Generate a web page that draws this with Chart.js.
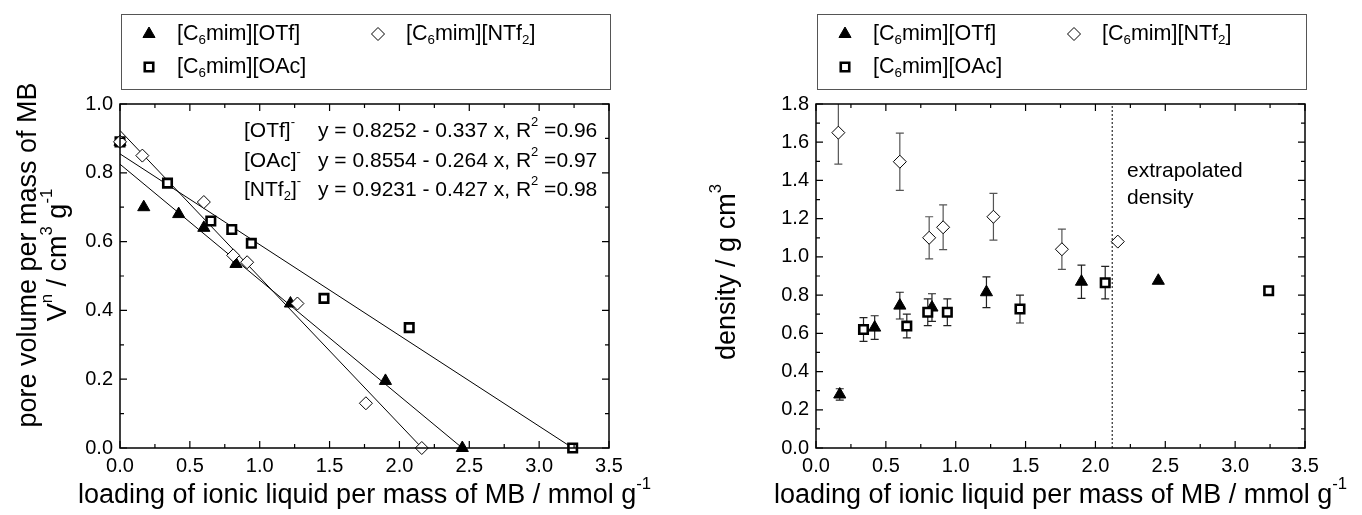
<!DOCTYPE html>
<html>
<head>
<meta charset="utf-8">
<script src="https://cdn.jsdelivr.net/npm/chart.js@4.4.0/dist/chart.umd.min.js"></script>
<style>
  body { margin: 0; background: #fff; width: 1362px; height: 515px; overflow: hidden; position: relative; }
  #leftChart { position: absolute; left: 0; top: 0; }
  #rightChart { position: absolute; left: 690px; top: 0; }
</style>
</head>
<body>
<canvas id="leftChart" width="690" height="515"></canvas>
<canvas id="rightChart" width="672" height="515"></canvas>
<script>
// Pore volume vs loading (left panel)
const loadOTf = [0, 0.17, 0.42, 0.60, 0.83, 1.22, 1.90, 2.45];
const poreOTf = [0.89, 0.70, 0.68, 0.64, 0.535, 0.42, 0.195, 0.0];
const loadOAc = [0, 0.34, 0.65, 0.80, 0.94, 1.46, 2.07, 3.24];
const poreOAc = [0.89, 0.77, 0.66, 0.635, 0.595, 0.435, 0.35, 0.0];
const loadNTf2 = [0, 0.16, 0.60, 0.81, 0.91, 1.27, 1.76, 2.16];
const poreNTf2 = [0.89, 0.85, 0.715, 0.56, 0.54, 0.42, 0.13, 0.0];

// Linear fit end points
const fitXOTf = [0, 2.45];
const fitYOTf = [0.825, 0];
const fitXOAc = [0, 3.24];
const fitYOAc = [0.855, 0];
const fitXNTf2 = [0, 2.162];
const fitYNTf2 = [0.923, 0];

// Density vs loading (right panel)
const densLoadOTf = [0.17, 0.42, 0.60, 0.83, 1.22, 1.90, 2.45];
const densOTf = [0.28, 0.63, 0.745, 0.735, 0.815, 0.87, 0.875];
const densErrOTf = [0.03, 0.062, 0.07, 0.072, 0.08, 0.087, 0];
const densLoadOAc = [0.34, 0.65, 0.80, 0.94, 1.46, 2.07, 3.24];
const densOAc = [0.62, 0.638, 0.71, 0.71, 0.727, 0.865, 0.823];
const densErrOAc = [0.062, 0.062, 0.07, 0.07, 0.073, 0.085, 0];
const densLoadNTf2 = [0.16, 0.60, 0.81, 0.91, 1.27, 1.76, 2.16];
const densNTf2 = [1.65, 1.498, 1.10, 1.155, 1.21, 1.04, 1.08];
const densErrNTf2 = [0.165, 0.15, 0.11, 0.117, 0.122, 0.105, 0];

const extrapX = [2.12, 2.12];
const extrapY = [0, 1.8];

// Axis ticks
const xTickStep = 0.5;
const leftYStep = 0.2;
const rightYStep = 0.2;

const FONT = '"Liberation Sans", Arial, sans-serif';

function pts(xs, ys) {
    return xs.map((x, i) => ({ x: x, y: ys[i] }));
}

// Texto con super/subíndices: parts = [[texto, modo]]
function drawRich(ctx, parts, x, y, size, align) {
    const small = size * 0.62;
    let total = 0;
    parts.forEach(p => {
        ctx.font = (p[1] ? small : size) + 'px ' + FONT;
        total += ctx.measureText(p[0]).width;
    });
    let cx = x;
    if (align === 'center') cx = x - total / 2;
    if (align === 'right') cx = x - total;
    ctx.textBaseline = 'middle';
    ctx.textAlign = 'left';
    ctx.fillStyle = '#000';
    parts.forEach(p => {
        let dy = 0;
        if (p[1] === 'sup') dy = -size * 0.42;
        if (p[1] === 'sub') dy = size * 0.3;
        ctx.font = (p[1] ? small : size) + 'px ' + FONT;
        ctx.fillText(p[0], cx, y + dy);
        cx += ctx.measureText(p[0]).width;
    });
}

function drawRotated(ctx, parts, x, y, size) {
    ctx.save();
    ctx.translate(x, y);
    ctx.rotate(-Math.PI / 2);
    drawRich(ctx, parts, 0, 0, size, 'center');
    ctx.restore();
}

const markerStyles = {
    OTf: { pointStyle: 'triangle', radius: 7, borderWidth: 1, fill: '#000' },
    OAc: { pointStyle: 'rect', radius: 6, borderWidth: 2.6, fill: '#fff' },
    NTf2: { pointStyle: 'rectRot', radius: 6.5, borderWidth: 1, fill: '#fff' }
};

function scatterSet(label, data, key) {
    const m = markerStyles[key];
    return {
        label: label, data: data, showLine: false, clip: false,
        pointStyle: m.pointStyle, pointRadius: m.radius,
        pointBorderWidth: m.borderWidth, pointBorderColor: '#000',
        pointBackgroundColor: m.fill, order: 0
    };
}

function lineSet(data, dash) {
    return {
        data: data, showLine: true, pointRadius: 0, borderColor: '#000',
        borderWidth: 1, borderDash: dash || [], order: 1
    };
}

// Marco con marcas hacia dentro (estilo Origin)
const framePlugin = {
    id: 'frame',
    afterDatasetsDraw(chart, args, opts) {
        const ctx = chart.ctx;
        const a = chart.chartArea;
        const xs = chart.scales.x, ys = chart.scales.y;
        ctx.save();
        ctx.strokeStyle = '#000';
        ctx.lineWidth = 1.5;
        ctx.strokeRect(a.left, a.top, a.right - a.left, a.bottom - a.top);
        ctx.lineWidth = 1.2;
        ctx.beginPath();
        for (let v = 0; v <= xs.max + 1e-9; v += xTickStep / 2) {
            const px = xs.getPixelForValue(v);
            const major = Math.abs(v / xTickStep - Math.round(v / xTickStep)) < 1e-6;
            const len = major ? 7 : 4;
            ctx.moveTo(px, a.bottom); ctx.lineTo(px, a.bottom - len);
            ctx.moveTo(px, a.top); ctx.lineTo(px, a.top + len);
        }
        for (let v = 0; v <= ys.max + 1e-9; v += opts.yStep / 2) {
            const py = ys.getPixelForValue(v);
            const major = Math.abs(v / opts.yStep - Math.round(v / opts.yStep)) < 1e-6;
            const len = major ? 7 : 4;
            ctx.moveTo(a.left, py); ctx.lineTo(a.left + len, py);
            ctx.moveTo(a.right, py); ctx.lineTo(a.right - len, py);
        }
        ctx.stroke();
        ctx.restore();
    }
};

// Barras de error por debajo de los marcadores
const errorBarPlugin = {
    id: 'errorBars',
    beforeDatasetsDraw(chart, args, opts) {
        if (!opts.sets) return;
        const ctx = chart.ctx;
        const a = chart.chartArea;
        const xs = chart.scales.x, ys = chart.scales.y;
        ctx.save();
        ctx.beginPath();
        ctx.rect(a.left, a.top, a.right - a.left, a.bottom - a.top);
        ctx.clip();
        ctx.lineWidth = 1.2;
        opts.sets.forEach(s => {
            ctx.strokeStyle = s.color;
            ctx.beginPath();
            s.x.forEach((x, i) => {
                if (!s.err[i]) return;
                const px = xs.getPixelForValue(x);
                const top = ys.getPixelForValue(s.y[i] + s.err[i]);
                const bot = ys.getPixelForValue(s.y[i] - s.err[i]);
                ctx.moveTo(px, top); ctx.lineTo(px, bot);
                ctx.moveTo(px - 4, top); ctx.lineTo(px + 4, top);
                ctx.moveTo(px - 4, bot); ctx.lineTo(px + 4, bot);
            });
            ctx.stroke();
        });
        ctx.restore();
    }
};

// Leyenda, títulos de ejes y anotaciones
const textPlugin = {
    id: 'texts',
    afterDraw(chart, args, opts) {
        const ctx = chart.ctx;
        const a = chart.chartArea;
        ctx.save();
        // caja de leyenda
        const bl = a.left + 1, br = a.right + 1;
        ctx.strokeStyle = '#555';
        ctx.lineWidth = 1;
        ctx.strokeRect(bl + 0.5, 14.5, br - bl, 75);
        const rows = [
            { key: 'OTf', col: 0, row: 0, parts: [['[C', ''], ['6', 'sub'], ['mim][OTf]', '']] },
            { key: 'NTf2', col: 1, row: 0, parts: [['[C', ''], ['6', 'sub'], ['mim][NTf', ''], ['2', 'sub'], [']', '']] },
            { key: 'OAc', col: 0, row: 1, parts: [['[C', ''], ['6', 'sub'], ['mim][OAc]', '']] }
        ];
        rows.forEach(r => {
            const m = markerStyles[r.key];
            const sx = bl + 28 + r.col * 229;
            const sy = 34 + r.row * 33;
            ctx.fillStyle = m.fill;
            ctx.strokeStyle = '#000';
            ctx.lineWidth = m.borderWidth;
            Chart.helpers.drawPoint(ctx, { pointStyle: m.pointStyle, radius: m.radius, rotation: 0, borderWidth: m.borderWidth }, sx, sy);
            drawRich(ctx, r.parts, sx + 28, sy, 21.5, 'left');
        });
        // título eje x
        drawRich(ctx, [['loading of ionic liquid per mass of MB / mmol g', ''], ['-1', 'sup']],
            (a.left + a.right) / 2, 496, 27, 'center');
        // título eje y
        opts.yTitle.forEach(t => drawRotated(ctx, t.parts, t.x, t.y, 27));
        // anotaciones
        (opts.notes || []).forEach(n => drawRich(ctx, n.parts, n.x, n.y, 21, 'left'));
        ctx.restore();
    }
};

function axisOptions(yMax, yStep, yWidth) {
    const tickFont = { family: FONT, size: 20 };
    return {
        x: {
            type: 'linear', min: 0, max: 3.5,
            grid: { display: false, drawTicks: false }, border: { display: false },
            ticks: { stepSize: xTickStep, color: '#000', font: tickFont, padding: 6,
                callback: v => v.toFixed(1), maxRotation: 0 },
            afterFit: s => { s.height = 67; }
        },
        y: {
            type: 'linear', min: 0, max: yMax,
            grid: { display: false, drawTicks: false }, border: { display: false },
            ticks: { stepSize: yStep, color: '#000', font: tickFont, padding: 7,
                callback: v => v.toFixed(1) },
            afterFit: s => { s.width = yWidth; }
        }
    };
}

function initializeCharts() {
    new Chart(document.getElementById('leftChart'), {
        type: 'scatter',
        data: {
            datasets: [
                lineSet(pts(fitXOTf, fitYOTf)),
                lineSet(pts(fitXOAc, fitYOAc)),
                lineSet(pts(fitXNTf2, fitYNTf2)),
                scatterSet('[C6mim][NTf2]', pts(loadNTf2, poreNTf2), 'NTf2'),
                scatterSet('[C6mim][OAc]', pts(loadOAc, poreOAc), 'OAc'),
                scatterSet('[C6mim][OTf]', pts(loadOTf, poreOTf), 'OTf')
            ]
        },
        options: {
            responsive: false, animation: false,
            layout: { padding: { top: 104, right: 81, left: 0, bottom: 0 } },
            scales: axisOptions(1.0, leftYStep, 120),
            plugins: {
                legend: { display: false }, tooltip: { enabled: false },
                frame: { yStep: leftYStep },
                texts: {
                    yTitle: [
                        { x: 29, y: 255, parts: [['pore volume per mass of MB', '']] },
                        { x: 59, y: 255, parts: [['V', ''], ['n', 'sup'], [' / cm', ''], ['3', 'sup'], [' g', ''], ['-1', 'sup']] }
                    ],
                    notes: [
                        { x: 244, y: 131, parts: [['[OTf]', ''], ['-', 'sup']] },
                        { x: 318, y: 131, parts: [['y = 0.8252 - 0.337 x, R', ''], ['2', 'sup'], [' =0.96', '']] },
                        { x: 244, y: 161, parts: [['[OAc]', ''], ['-', 'sup']] },
                        { x: 318, y: 161, parts: [['y = 0.8554 - 0.264 x, R', ''], ['2', 'sup'], [' =0.97', '']] },
                        { x: 244, y: 190, parts: [['[NTf', ''], ['2', 'sub'], [']', ''], ['-', 'sup']] },
                        { x: 318, y: 190, parts: [['y = 0.9231 - 0.427 x, R', ''], ['2', 'sup'], [' =0.98', '']] }
                    ]
                }
            }
        },
        plugins: [framePlugin, textPlugin]
    });

    new Chart(document.getElementById('rightChart'), {
        type: 'scatter',
        data: {
            datasets: [
                lineSet(pts(extrapX, extrapY), [2, 2]),
                scatterSet('[C6mim][NTf2]', pts(densLoadNTf2, densNTf2), 'NTf2'),
                scatterSet('[C6mim][OAc]', pts(densLoadOAc, densOAc), 'OAc'),
                scatterSet('[C6mim][OTf]', pts(densLoadOTf, densOTf), 'OTf')
            ]
        },
        options: {
            responsive: false, animation: false,
            layout: { padding: { top: 104, right: 57, left: 0, bottom: 0 } },
            scales: axisOptions(1.8, rightYStep, 126),
            plugins: {
                legend: { display: false }, tooltip: { enabled: false },
                frame: { yStep: rightYStep },
                errorBars: {
                    sets: [
                        { x: densLoadNTf2, y: densNTf2, err: densErrNTf2, color: '#555' },
                        { x: densLoadOAc, y: densOAc, err: densErrOAc, color: '#222' },
                        { x: densLoadOTf, y: densOTf, err: densErrOTf, color: '#222' }
                    ]
                },
                texts: {
                    yTitle: [
                        { x: 38, y: 272, parts: [['density / g cm', ''], ['3', 'sup']] }
                    ],
                    notes: [
                        { x: 437, y: 171, parts: [['extrapolated', '']] },
                        { x: 437, y: 198, parts: [['density', '']] }
                    ]
                }
            }
        },
        plugins: [errorBarPlugin, framePlugin, textPlugin]
    });
}

window.addEventListener('load', initializeCharts);
</script>
</body>
</html>
